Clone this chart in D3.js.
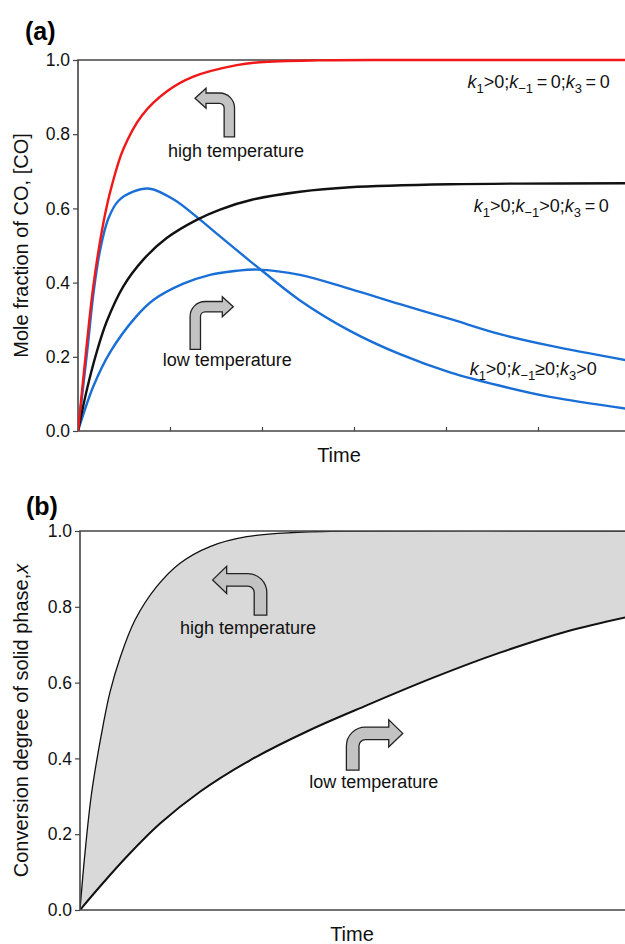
<!DOCTYPE html>
<html>
<head>
<meta charset="utf-8">
<script src="https://cdn.jsdelivr.net/npm/d3@7"></script>
<style>
  body { margin: 0; background: #fff; }
  svg { display: block; font-family: "Liberation Sans", Arial, Helvetica, sans-serif; }
  .tick text { font-size: 17.5px; fill: #111; }
  .axisTitle { font-size: 20px; fill: #111; }
  .note { font-size: 18px; fill: #111; }
  .klabel { font-size: 18px; fill: #111; }
</style>
</head>
<body>
<div id="chart"></div>
<script>
const width = 625;
const height = 944;

// ---- data (time in tick units, value 0..1) ----
const timeTicks = [1, 2, 3, 4, 5];
const yTicks = [0, 0.2, 0.4, 0.6, 0.8, 1.0];

// panel (a)
const redCurve = [[0,0],[0.094,0.23],[0.166,0.39],[0.275,0.56],[0.366,0.66],[0.493,0.76],
  [0.693,0.85],[0.964,0.915],[1.254,0.955],[1.725,0.986],[1.978,0.994],[2.6,0.999],[3.5,1],[6,1]];
const blackCurve = [[0,0],[0.1,0.115],[0.2,0.21],[0.312,0.295],[0.493,0.39],[0.71,0.462],
  [0.964,0.52],[1.29,0.569],[1.544,0.597],[1.9,0.624],[2.413,0.645],[2.956,0.657],[4.043,0.665],[6,0.668]];
const blueFast = [[0,0],[0.1,0.215],[0.17,0.375],[0.239,0.486],[0.329,0.572],[0.438,0.62],[0.6,0.645],
  [0.783,0.653],[1.054,0.622],[1.29,0.577],[1.508,0.532],[1.87,0.458],[2.0,0.432],[2.413,0.352],[2.956,0.27],
  [3.5,0.207],[4.043,0.158],[4.587,0.122],[5.13,0.092],[6,0.059]];
const blueSlow = [[0,0],[0.166,0.12],[0.348,0.212],[0.62,0.305],[0.819,0.353],[1.145,0.397],
  [1.435,0.421],[1.725,0.432],[1.95,0.435],[2.413,0.421],[2.956,0.383],[3.5,0.342],[4.043,0.302],
  [4.587,0.261],[5.13,0.23],[6,0.189]];

// panel (b)
const upperCurve = [[0,0],[0.054,0.15],[0.127,0.31],[0.253,0.49],[0.326,0.575],[0.435,0.665],
  [0.598,0.765],[0.833,0.853],[1.087,0.915],[1.413,0.959],[1.812,0.985],[2.319,0.996],[3,1],[6,1]];
const lowerCurve = [[0,0],[0.217,0.062],[0.525,0.145],[0.87,0.228],[1.304,0.312],[1.848,0.395],
  [2.5,0.475],[3.116,0.54],[3.84,0.613],[4.565,0.679],[5.29,0.735],[6,0.776]];

// annotations: [t, value]
const arrowsA = [
  {base: [1.645, 0.793], tip: [1.272, 0.897]},
  {base: [1.275, 0.22], tip: [1.688, 0.335]}
];
const arrowsB = [
  {base: [1.962, 0.778], tip: [1.442, 0.871]},
  {base: [2.964, 0.369], tip: [3.508, 0.466]}
];
const notesA = [
  {text: "high temperature", at: [1.717, 0.755]},
  {text: "low temperature", at: [1.622, 0.193]}
];
const notesB = [
  {text: "high temperature", at: [1.826, 0.746]},
  {text: "low temperature", at: [3.194, 0.339]}
];
// k labels: pieces [text, kind] where kind: n normal, k italic, s subscript
const kLabels = [
  {at: [5.78, 0.941], parts: [["k","k"],["1","s"],[">0;","n"],["k","k"],["\u22121","s"],["\u2009=\u20090;","n"],["k","k"],["3","s"],["\u2009=\u20090","n"]]},
  {at: [5.77, 0.607], parts: [["k","k"],["1","s"],[">0;","n"],["k","k"],["\u22121","s"],[">0;","n"],["k","k"],["3","s"],["\u2009=\u20090","n"]]},
  {at: [5.64, 0.167], parts: [["k","k"],["1","s"],[">0;","n"],["k","k"],["\u22121","s"],["\u22650;","n"],["k","k"],["3","s"],[">0","n"]]}
];

const svg = d3.select("#chart").append("svg")
    .attr("width", width)
    .attr("height", height)
    .attr("viewBox", [0, 0, width, height]);

// ---- helpers ----
function arrowPath(x, y, a, w, hh, hl, R) {
  const bx = x(a.base[0]), by = y(a.base[1]);
  const tx = x(a.tip[0]), ty = y(a.tip[1]);
  const d = Math.sign(tx - bx);           // +1 right, -1 left
  const r = Math.max(R - 2 * w, 1.5);     // inner radius
  const hx = tx - d * hl;                 // head base
  const p = d3.path();
  p.moveTo(bx - d * w, by);
  p.lineTo(bx - d * w, ty - w + R);
  p.arcTo(bx - d * w, ty - w, bx - d * w + d * R, ty - w, R);
  p.lineTo(hx, ty - w);
  p.lineTo(hx, ty - hh);
  p.lineTo(tx, ty);
  p.lineTo(hx, ty + hh);
  p.lineTo(hx, ty + w);
  p.lineTo(bx + d * w + d * r, ty + w);
  p.arcTo(bx + d * w, ty + w, bx + d * w, ty + w + r, r);
  p.lineTo(bx + d * w, by);
  p.closePath();
  return p.toString();
}

function yAxisTicks(g, y, x0) {
  g.append("g")
      .attr("class", "axis yAxis")
      .attr("transform", `translate(${x0},0)`)
      .call(d3.axisLeft(y).tickValues(yTicks).tickSize(5).tickPadding(3).tickFormat(d3.format(".1f")))
      .call(s => s.select(".domain").remove())
      .call(s => s.selectAll(".tick line").attr("stroke", "#444").attr("stroke-width", 1.2));
}

function frame(g, x0, x1, y0, y1) {
  g.append("path")
      .attr("d", `M${x1 + 5},${y1}H${x0}V${y0}H${x1 + 5}`)
      .attr("fill", "none")
      .attr("stroke", "#444")
      .attr("stroke-width", 1.6);
}

const smooth = d3.curveCatmullRom.alpha(0.5);

// =============== PANEL (a) ===============
const xa = d3.scaleLinear().domain([0, 6]).range([78, 630]);
const ya = d3.scaleLinear().domain([0, 1]).range([431, 60]);

const ga = svg.append("g");

ga.append("clipPath").attr("id", "clipA")
  .append("rect").attr("x", 78).attr("y", 40).attr("width", 560).attr("height", 391);

// bottom axis ticks point inward
ga.append("g")
    .attr("class", "axis xAxis")
    .attr("transform", `translate(0,${ya(0)})`)
    .call(d3.axisBottom(xa).tickValues(timeTicks).tickSize(-4).tickFormat(""))
    .call(s => s.select(".domain").remove())
    .call(s => s.selectAll(".tick line").attr("stroke", "#444").attr("stroke-width", 1.2));

yAxisTicks(ga, ya, xa(0));
frame(ga, xa(0), width, ya(0), ya(1));

const lineA = d3.line()
    .x(d => xa(d[0]))
    .y(d => ya(d[1]))
    .curve(smooth);

const seriesA = [
  {data: blueSlow, colour: "#1a6fd6"},
  {data: blueFast, colour: "#1a6fd6"},
  {data: blackCurve, colour: "#111"},
  {data: redCurve, colour: "#f01818"}
];

ga.append("g").attr("clip-path", "url(#clipA)")
  .selectAll("path.curve")
  .data(seriesA)
  .enter()
  .append("path")
    .attr("class", "curve")
    .attr("d", d => lineA(d.data))
    .attr("fill", "none")
    .attr("stroke", d => d.colour)
    .attr("stroke-width", 2.4)
    .attr("stroke-linejoin", "round");

ga.selectAll("path.arrow")
    .data(arrowsA)
    .enter()
    .append("path")
    .attr("class", "arrow")
    .attr("d", d => arrowPath(xa, ya, d, 5.2, 10, 11, 15))
    .attr("fill", "#c3c3c3")
    .attr("stroke", "#222")
    .attr("stroke-width", 1.3)
    .attr("stroke-linejoin", "miter");

ga.selectAll("text.note")
    .data(notesA)
    .enter()
    .append("text")
    .attr("class", "note")
    .attr("x", d => xa(d.at[0]))
    .attr("y", d => ya(d.at[1]))
    .attr("dy", "0.35em")
    .style("text-anchor", "middle")
    .text(d => d.text);

const kt = ga.selectAll("text.klabel")
    .data(kLabels)
    .enter()
    .append("text")
    .attr("class", "klabel")
    .attr("x", d => xa(d.at[0]))
    .attr("y", d => ya(d.at[1]))
    .attr("dy", "0.35em")
    .style("text-anchor", "end");

kt.each(function(d) {
  const t = d3.select(this);
  let shifted = false;
  d.parts.forEach(([txt, kind]) => {
    const ts = t.append("tspan").text(txt);
    if (kind === "k") ts.style("font-style", "italic");
    if (kind === "s") {
      ts.style("font-size", "13px").attr("dy", shifted ? 0 : 5);
      shifted = true;
    } else if (shifted) {
      ts.attr("dy", -5);
      shifted = false;
    }
  });
});

ga.append("text")
    .attr("class", "axisTitle")
    .attr("x", xa(3) - 15)
    .attr("y", 462)
    .style("text-anchor", "middle")
    .text("Time");

ga.append("text")
    .attr("class", "axisTitle")
    .attr("transform", `translate(28,${(ya(0) + ya(1)) / 2}) rotate(-90)`)
    .style("text-anchor", "middle")
    .text("Mole fraction of CO, [CO]");

ga.append("text")
    .attr("x", 25)
    .attr("y", 40)
    .style("font-size", "25px")
    .style("font-weight", "bold")
    .text("(a)");

// =============== PANEL (b) ===============
const xb = d3.scaleLinear().domain([0, 6]).range([80, 632]);
const yb = d3.scaleLinear().domain([0, 1]).range([910, 531]);

const gb = svg.append("g");

gb.append("clipPath").attr("id", "clipB")
  .append("rect").attr("x", 80).attr("y", 531).attr("width", 560).attr("height", 379);

const areaB = d3.area()
    .x(d => xb(d[0]))
    .y0(yb(0))
    .y1(d => yb(d[1]))
    .curve(smooth);

const lineB = d3.line()
    .x(d => xb(d[0]))
    .y(d => yb(d[1]))
    .curve(smooth);

const plotB = gb.append("g").attr("clip-path", "url(#clipB)");

plotB.append("path").attr("d", areaB(upperCurve)).attr("fill", "#d9d9d9");
plotB.append("path").attr("d", areaB(lowerCurve)).attr("fill", "#fff");

yAxisTicks(gb, yb, xb(0));
frame(gb, xb(0), width, yb(0), yb(1));

plotB.append("path")
    .attr("d", lineB(upperCurve))
    .attr("fill", "none")
    .attr("stroke", "#111")
    .attr("stroke-width", 1.3);

plotB.append("path")
    .attr("d", lineB(lowerCurve))
    .attr("fill", "none")
    .attr("stroke", "#111")
    .attr("stroke-width", 2);

gb.selectAll("path.arrow")
    .data(arrowsB)
    .enter()
    .append("path")
    .attr("class", "arrow")
    .attr("d", d => arrowPath(xb, yb, d, 6.3, 13.5, 14, 19))
    .attr("fill", "#c3c3c3")
    .attr("stroke", "#222")
    .attr("stroke-width", 1.3)
    .attr("stroke-linejoin", "miter");

gb.selectAll("text.note")
    .data(notesB)
    .enter()
    .append("text")
    .attr("class", "note")
    .attr("x", d => xb(d.at[0]))
    .attr("y", d => yb(d.at[1]))
    .attr("dy", "0.35em")
    .style("text-anchor", "middle")
    .text(d => d.text);

gb.append("text")
    .attr("class", "axisTitle")
    .attr("x", 352)
    .attr("y", 941)
    .style("text-anchor", "middle")
    .text("Time");

const yTitleB = gb.append("text")
    .attr("class", "axisTitle")
    .attr("transform", `translate(28,${(yb(0) + yb(1)) / 2}) rotate(-90)`)
    .style("text-anchor", "middle");
yTitleB.append("tspan").text("Conversion degree of solid phase,");
yTitleB.append("tspan").style("font-style", "italic").text("x");

gb.append("text")
    .attr("x", 26)
    .attr("y", 515)
    .style("font-size", "25px")
    .style("font-weight", "bold")
    .text("(b)");
</script>
</body>
</html>
